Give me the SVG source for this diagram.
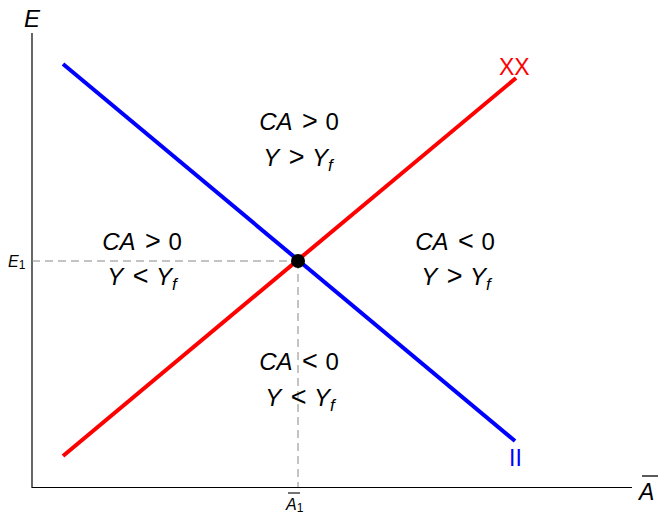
<svg xmlns="http://www.w3.org/2000/svg" width="661" height="514" viewBox="0 0 661 514">
<style>
.ax{stroke:#000;stroke-width:1.2;fill:none}
.dash{stroke:#888;stroke-width:1;stroke-dasharray:8 5;fill:none}
.lbl{font-family:"Liberation Sans",Arial,sans-serif;font-size:24px;fill:#000;text-anchor:middle}
.it{font-style:italic}
.op{font-size:27px}
</style>
<rect width="661" height="514" fill="#fff"/>
<g id="axes">
<line class="ax" x1="32" y1="33" x2="32" y2="488"/>
<line class="ax" x1="32" y1="487.5" x2="632" y2="487.5"/>
<text x="24" y="27" font-family="Liberation Sans,Arial,sans-serif" font-size="24" font-style="italic">E</text>
<line x1="642" y1="476" x2="658" y2="476" stroke="#000" stroke-width="1.3"/>
<text x="639" y="500" font-family="Liberation Sans,Arial,sans-serif" font-size="23" font-style="italic">A</text>
<text x="8" y="267" font-family="Liberation Sans,Arial,sans-serif" font-size="16" font-style="italic">E<tspan font-style="normal" font-size="12" dy="2">1</tspan></text>
<line x1="288" y1="493" x2="300" y2="493" stroke="#000" stroke-width="1.1"/>
<text x="286" y="510" font-family="Liberation Sans,Arial,sans-serif" font-size="16" font-style="italic">A<tspan font-style="normal" font-size="12" dy="2">1</tspan></text>
</g>
<g id="connectors">
<line class="dash" x1="32" y1="261" x2="298" y2="261"/>
<line class="dash" x1="298" y1="261" x2="298" y2="487"/>
</g>
<g id="II">
<line x1="63" y1="64" x2="515" y2="441" stroke="#0000ff" stroke-width="4"/>
<text x="509" y="466" font-family="Liberation Sans,Arial,sans-serif" font-size="23" fill="#0000ff">II</text>
</g>
<g id="XX">
<line x1="63" y1="456" x2="516" y2="78" stroke="#ff0000" stroke-width="4"/>
<text x="499" y="75" font-family="Liberation Sans,Arial,sans-serif" font-size="23" fill="#ff0000">XX</text>
</g>
<g id="equilibrium">
<circle cx="298" cy="261" r="7" fill="#000"/>
</g>
<g id="region-top">
<text class="lbl" x="299" y="130"><tspan class="it">CA</tspan><tspan class="op" dx="2"> &gt; </tspan>0</text>
<text class="lbl" x="298" y="166"><tspan class="it">Y</tspan><tspan class="op" dx="2"> &gt; </tspan><tspan class="it">Y</tspan><tspan class="it" font-size="17" dy="5">f</tspan></text>
</g>
<g id="region-left">
<text class="lbl" x="142" y="250"><tspan class="it">CA</tspan><tspan class="op" dx="2"> &gt; </tspan>0</text>
<text class="lbl" x="142" y="285"><tspan class="it">Y</tspan><tspan class="op" dx="2"> &lt; </tspan><tspan class="it">Y</tspan><tspan class="it" font-size="17" dy="5">f</tspan></text>
</g>
<g id="region-right">
<text class="lbl" x="455" y="250"><tspan class="it">CA</tspan><tspan class="op" dx="2"> &lt; </tspan>0</text>
<text class="lbl" x="456" y="285"><tspan class="it">Y</tspan><tspan class="op" dx="2"> &gt; </tspan><tspan class="it">Y</tspan><tspan class="it" font-size="17" dy="5">f</tspan></text>
</g>
<g id="region-bottom">
<text class="lbl" x="299" y="370"><tspan class="it">CA</tspan><tspan class="op" dx="2"> &lt; </tspan>0</text>
<text class="lbl" x="300" y="406"><tspan class="it">Y</tspan><tspan class="op" dx="2"> &lt; </tspan><tspan class="it">Y</tspan><tspan class="it" font-size="17" dy="5">f</tspan></text>
</g>
</svg>
